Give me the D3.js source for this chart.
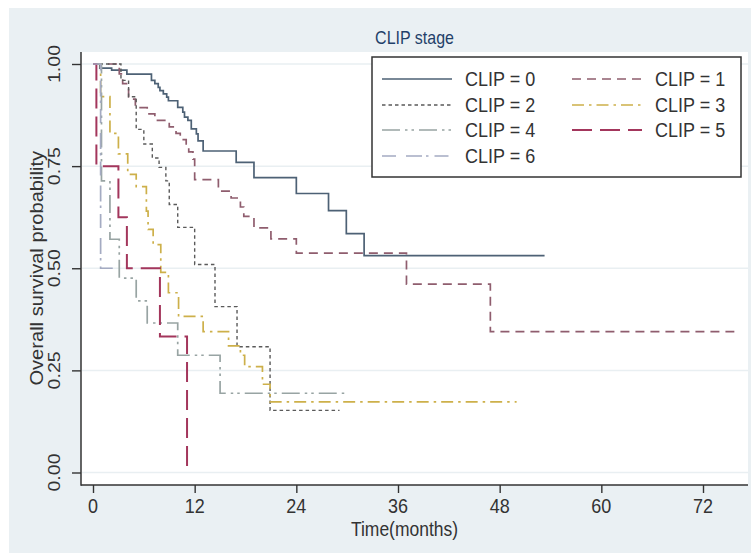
<!DOCTYPE html>
<html>
<head>
<meta charset="utf-8">
<script src="https://cdn.jsdelivr.net/npm/d3@7"></script>
<style>
  html, body { margin: 0; padding: 0; background: #ffffff; }
  svg { display: block; }
  text { font-family: "Liberation Sans", Arial, sans-serif; }
</style>
</head>
<body>
<svg id="chart" width="753" height="553"></svg>
<script>
// ---------------- data ----------------
const groups = ["CLIP = 0", "CLIP = 1", "CLIP = 2", "CLIP = 3", "CLIP = 4", "CLIP = 5", "CLIP = 6"];

const clip0Time = [0, 0.8, 2.2, 4.0, 6.9, 7.3, 7.7, 7.9, 8.3, 8.7, 8.9, 10.0, 10.6, 10.8, 11.2, 11.6, 12.2, 12.4, 13.0, 16.9, 19.0, 24.0, 27.8, 29.9, 32.0, 53.3];
const clip0Surv = [1, 0.99, 0.985, 0.975, 0.96, 0.952, 0.943, 0.935, 0.927, 0.919, 0.91, 0.894, 0.882, 0.87, 0.862, 0.841, 0.829, 0.812, 0.787, 0.759, 0.722, 0.683, 0.641, 0.585, 0.531, 0.531];

const clip1Time = [0, 3.1, 3.5, 4.2, 5.0, 6.4, 7.3, 9.0, 9.8, 10.3, 11.0, 11.3, 11.8, 12.0, 14.8, 16.3, 17.4, 17.8, 19.0, 21.0, 24.0, 37.0, 46.9, 75.7];
const clip1Surv = [1, 0.976, 0.952, 0.914, 0.893, 0.878, 0.862, 0.846, 0.83, 0.815, 0.80, 0.785, 0.767, 0.717, 0.689, 0.672, 0.65, 0.627, 0.599, 0.572, 0.537, 0.461, 0.345, 0.345];

const clip2Time = [0, 3.3, 4.2, 5.1, 6.0, 7.0, 7.8, 8.6, 9.0, 10.0, 12.0, 14.4, 17.0, 20.9, 29.1];
const clip2Surv = [1, 0.96, 0.92, 0.84, 0.804, 0.77, 0.747, 0.714, 0.656, 0.60, 0.509, 0.406, 0.308, 0.152, 0.152];

const clip3Time = [0, 0.9, 2.0, 3.0, 4.1, 5.1, 6.3, 6.5, 7.1, 8.0, 8.9, 10.1, 13.0, 16.0, 17.4, 17.9, 20.0, 20.9, 50.0];
const clip3Surv = [1, 0.92, 0.83, 0.78, 0.73, 0.70, 0.64, 0.595, 0.558, 0.49, 0.44, 0.382, 0.345, 0.31, 0.287, 0.259, 0.216, 0.173, 0.173];

const clip4Time = [0, 1.0, 2.0, 3.1, 5.1, 6.4, 10.0, 15.0, 29.9];
const clip4Surv = [1, 0.714, 0.571, 0.476, 0.42, 0.366, 0.287, 0.194, 0.194];

const clip5Time = [0, 0.4, 3.0, 4.0, 7.9, 11.1];
const clip5Surv = [1, 0.75, 0.625, 0.5, 0.333, 0];

const clip6Time = [0, 0.9, 2.9];
const clip6Surv = [1, 0.5, 0.5];

const xTicks = [0, 12, 24, 36, 48, 60, 72];
const yTicks = [0, 0.25, 0.5, 0.75, 1];

const titleText = "CLIP stage";
const xTitle = "Time(months)";
const yTitle = "Overall survival probability";

// ---------------- styles ----------------
const styles = [
  { color: "#4d6175", dash: null,               width: 1.7 },
  { color: "#8f5d6e", dash: "9,6",              width: 1.7 },
  { color: "#5a5a5a", dash: "3.5,3",            width: 1.4 },
  { color: "#cdb04a", dash: "12,5,2.5,5",       width: 1.7 },
  { color: "#98a4a3", dash: "18,5,2.5,4,2.5,5", width: 1.7 },
  { color: "#a3365c", dash: "20,8",             width: 2.0 },
  { color: "#a4abc2", dash: "14,10,16,4,2.5,6", width: 1.7 }
];

const series = [
  [clip0Time, clip0Surv], [clip1Time, clip1Surv], [clip2Time, clip2Surv],
  [clip3Time, clip3Surv], [clip4Time, clip4Surv], [clip5Time, clip5Surv],
  [clip6Time, clip6Surv]
].map((p, i) => ({ name: groups[i], pts: p[0].map((t, j) => ({ t: t, s: p[1][j] })), style: styles[i] }));

// ---------------- layout ----------------
const W = 753, H = 553;
const SY = 1.15; // vertical text stretch seen in the reference
const plot = { left: 81, right: 748, top: 52, bottom: 485 };

const x = d3.scaleLinear().domain([0, 72]).range([93, 703]);
const y = d3.scaleLinear().domain([0, 1]).range([472.5, 64]);

const svg = d3.select("#chart");

// outer background
svg.append("rect").attr("x", 0).attr("y", 0).attr("width", W).attr("height", H).attr("fill", "#ffffff");
svg.append("rect").attr("x", 9).attr("y", 8).attr("width", 742).attr("height", 545).attr("fill", "#eaf0f3");

// plot region
svg.append("rect")
  .attr("x", plot.left).attr("y", plot.top)
  .attr("width", plot.right - plot.left).attr("height", plot.bottom - plot.top)
  .attr("fill", "#ffffff");

// gridlines
svg.append("g").selectAll("line").data(yTicks).join("line")
  .attr("x1", plot.left + 1).attr("x2", plot.right)
  .attr("y1", d => y(d)).attr("y2", d => y(d))
  .attr("stroke", "#e9eff2").attr("stroke-width", 1.5);

// axes (ticks through d3 axes)
const yAxis = svg.append("g").attr("transform", `translate(${plot.left},0)`)
  .call(d3.axisLeft(y).tickValues(yTicks).tickSize(9).tickFormat(""));
yAxis.select(".domain").remove();
yAxis.selectAll(".tick line").attr("stroke", "#333").attr("stroke-width", 1.4);

const xAxis = svg.append("g").attr("transform", `translate(0,${plot.bottom})`)
  .call(d3.axisBottom(x).tickValues(xTicks).tickSize(8).tickFormat(""));
xAxis.select(".domain").remove();
xAxis.selectAll(".tick line").attr("stroke", "#333").attr("stroke-width", 1.4);

svg.append("line").attr("x1", plot.left).attr("x2", plot.left)
  .attr("y1", plot.top).attr("y2", plot.bottom + 0.7)
  .attr("stroke", "#333").attr("stroke-width", 1.5);
svg.append("line").attr("x1", plot.left).attr("x2", plot.right)
  .attr("y1", plot.bottom).attr("y2", plot.bottom)
  .attr("stroke", "#333").attr("stroke-width", 1.5);

// tick labels
svg.append("g").selectAll("text").data(xTicks).join("text")
  .attr("transform", d => `translate(${x(d)},513) scale(1,${SY})`)
  .attr("text-anchor", "middle").attr("font-size", 18).attr("fill", "#333")
  .text(d => d);

svg.append("g").selectAll("text").data(yTicks).join("text")
  .attr("transform", d => `translate(60,${y(d)}) scale(1,${SY}) rotate(-90)`)
  .attr("text-anchor", "middle").attr("font-size", 17).attr("fill", "#333")
  .text(d => d3.format(".2f")(d));

// axis titles
svg.append("text")
  .attr("transform", `translate(${(plot.left + plot.right) / 2 - 10},536) scale(1,${SY})`)
  .attr("text-anchor", "middle").attr("font-size", 17.5).attr("fill", "#333")
  .text(xTitle);

svg.append("text")
  .attr("transform", `translate(43,${(y(0) + y(1)) / 2}) scale(1,${SY}) rotate(-90)`)
  .attr("text-anchor", "middle").attr("font-size", 17.5).attr("fill", "#333")
  .text(yTitle);

// title
svg.append("text")
  .attr("transform", `translate(${(plot.left + plot.right) / 2},44) scale(1,${SY})`)
  .attr("text-anchor", "middle").attr("font-size", 16).attr("fill", "#1f4069")
  .text(titleText);

// curves
const line = d3.line().x(d => x(d.t)).y(d => y(d.s)).curve(d3.curveStepAfter);
const curves = svg.append("g");
series.forEach(sr => {
  curves.append("path")
    .attr("d", line(sr.pts))
    .attr("fill", "none")
    .attr("stroke", sr.style.color)
    .attr("stroke-width", sr.style.width)
    .attr("stroke-dasharray", sr.style.dash);
});

// legend
const legend = svg.append("g");
legend.append("rect").attr("x", 372).attr("y", 57).attr("width", 369).attr("height", 120)
  .attr("fill", "#ffffff").attr("stroke", "#333").attr("stroke-width", 1.5);
const rowY = [79, 105, 130, 156];
const colX = [382, 572];
series.forEach((sr, i) => {
  const col = i % 2, row = Math.floor(i / 2);
  const ly = rowY[row], lx = colX[col];
  legend.append("line").attr("x1", lx).attr("x2", lx + 70).attr("y1", ly).attr("y2", ly)
    .attr("stroke", sr.style.color).attr("stroke-width", sr.style.width)
    .attr("stroke-dasharray", sr.style.dash);
  legend.append("text")
    .attr("transform", `translate(${lx + 83},${ly + 7}) scale(1,${SY})`)
    .attr("font-size", 18).attr("fill", "#333")
    .text(sr.name);
});
</script>
</body>
</html>
